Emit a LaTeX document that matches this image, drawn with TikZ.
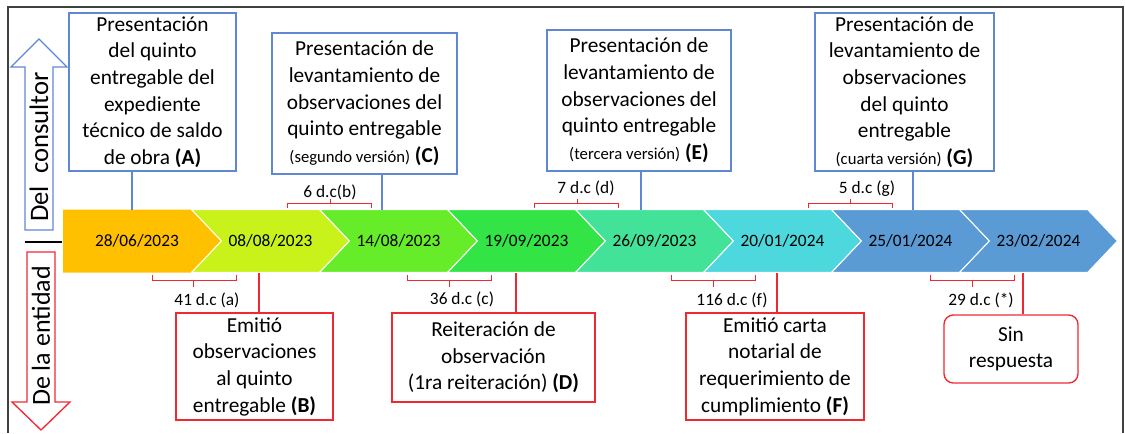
\documentclass[tikz,border=0pt]{standalone}
\usepackage{fontspec}
\setmainfont{Carlito}
\usetikzlibrary{shapes.symbols}

\definecolor{azulc}{RGB}{95,135,212}
\definecolor{rojoe}{RGB}{240,40,50}
\definecolor{naranja}{RGB}{255,192,0}
\definecolor{lima}{RGB}{200,242,25}
\definecolor{verdeuno}{RGB}{102,236,40}
\definecolor{verdedos}{RGB}{50,228,70}
\definecolor{menta}{RGB}{66,226,152}
\definecolor{cian}{RGB}{76,216,220}
\definecolor{azulh}{RGB}{91,155,213}

\begin{document}
\begin{tikzpicture}[
    x=0.75pt, y=-0.75pt,
    hito/.style={signal, signal to=east, signal from=west, signal pointer angle=93, draw=white, line width=0.8pt,
        minimum width=118.5pt, minimum height=47.25pt, inner sep=0pt, font=\fontsize{13}{15}\selectfont},
    fecha/.style={inner sep=0pt, font=\fontsize{13}{15}\selectfont},
    consultor/.style={draw=azulc, line width=1pt, align=center, inner sep=0pt, font=\fontsize{16}{20}\selectfont},
    entidad/.style={draw=rojoe, line width=1pt, align=center, inner sep=0pt, font=\fontsize{16}{20}\selectfont},
    plazo/.style={anchor=base, inner sep=0pt, font=\fontsize{13}{15}\selectfont},
    llave/.style={draw=rojoe, line width=0.6pt},
    lineaazul/.style={draw=azulc, line width=1pt},
    linearoja/.style={draw=rojoe, line width=1pt}
]
\useasboundingbox (0,0) rectangle (1125,433);

% Frame
\draw[black!75, line width=1pt] (8,433) -- (8,7) -- (1123,7) -- (1123,433);

% Side arrows
\draw[azulc, line width=1pt] (25,230) -- (25,67) -- (11,67) -- (39,39) -- (67,67) -- (53,67) -- (53,230) -- cycle;
\draw[rojoe, line width=1pt] (27,252) -- (55,252) -- (55,402) -- (70,402) -- (41,430) -- (12,402) -- (27,402) -- cycle;
\node[rotate=90, font=\fontsize{20}{24}\selectfont] (consul) at (39,147) {Del\ \ consultor};
\node[rotate=90, font=\fontsize{19.5}{24}\selectfont] (entid) at (41,336) {De la entidad};
\draw[line width=1.5pt] (25,242) -- (62,242);

% Timeline
\fill[naranja] (63,209.5) -- (192,209.5) -- (222,241) -- (192,272.5) -- (63,272.5) -- cycle;
\node[fecha] (h1) at (137,241) {28/06/2023};
\node[hito, fill=lima] (h2) at (270.5,241) {08/08/2023};
\node[hito, fill=verdeuno] (h3) at (398.5,241) {14/08/2023};
\node[hito, fill=verdedos] (h4) at (526.5,241) {19/09/2023};
\node[hito, fill=menta] (h5) at (654.5,241) {26/09/2023};
\node[hito, fill=cian] (h6) at (782.5,241) {20/01/2024};
\node[hito, fill=azulh] (h7) at (910.5,241) {25/01/2024};
\node[hito, fill=azulh] (h8) at (1038.5,241) {23/02/2024};

% Consultant boxes
\node[consultor, minimum width=125.25pt, minimum height=118.5pt] (A) at (152.5,92)
    {Presentación\\ del quinto\\ entregable del\\ expediente\\ técnico de saldo\\ de obra \textbf{(A)}};
\node[consultor, minimum width=138.75pt, minimum height=105.75pt] (C) at (364.5,103.5)
    {Presentación de\\ levantamiento de\\ observaciones del\\ quinto entregable\\ {\fontsize{12.5}{20}\selectfont (segundo versión)} \textbf{(C)}};
\node[consultor, minimum width=138pt, minimum height=105.75pt] (E) at (639,100.5)
    {Presentación de\\ levantamiento de\\ observaciones del\\ quinto entregable\\ {\fontsize{12.5}{20}\selectfont (tercera versión)} \textbf{(E)}};
\node[consultor, minimum width=134.25pt, minimum height=118.5pt] (G) at (904.5,92)
    {Presentación de\\ levantamiento de\\ observaciones\\ del quinto\\ entregable\\ {\fontsize{12.5}{20}\selectfont (cuarta versión)} \textbf{(G)}};

% Entity boxes
\node[entidad, minimum width=117.75pt, minimum height=80.25pt] (B) at (254.5,366.5)
    {Emitió\\ observaciones\\ al quinto\\ entregable \textbf{(B)}};
\node[entidad, minimum width=152.25pt, minimum height=66.75pt] (D) at (493.5,357.5)
    {Reiteración de\\ observación\\ (1ra reiteración) \textbf{(D)}};
\node[entidad, minimum width=133.5pt, minimum height=80.25pt] (F) at (775,366.5)
    {Emitió carta\\ notarial de\\ requerimiento de\\ cumplimiento \textbf{(F)}};
\node[entidad, rounded corners=7pt, minimum width=100.5pt, minimum height=51pt] (S) at (1011,349)
    {Sin\\ respuesta};

% Connectors
\coordinate (tA) at (132,210);
\coordinate (tC) at (382,210);
\coordinate (tE) at (641,210);
\coordinate (tG) at (913,210);
\coordinate (bB) at (259,273);
\coordinate (bD) at (516,273);
\coordinate (bF) at (777,273);
\coordinate (bS) at (1023,273);
\draw[lineaazul] (A.south -| tA) -- (tA);
\draw[lineaazul] (C.south -| tC) -- (tC);
\draw[lineaazul] (E.south -| tE) -- (tE);
\draw[lineaazul] (G.south -| tG) -- (tG);
\draw[linearoja] (bB) -- (B.north -| bB);
\draw[linearoja] (bD) -- (D.north -| bD);
\draw[linearoja] (bF) -- (F.north -| bF);
\draw[linearoja] (bS) -- (S.north -| bS);

% Day counts above
\draw[llave] (287,208) -- (287,203) -- (371,203) -- (371,208) (330,203) -- (330,199);
\node[plazo] (pb) at (330,197) {6 d.c(b)};
\draw[llave] (534,208) -- (534,203) -- (618,203) -- (618,208) (577,203) -- (577,199);
\node[plazo] (pd) at (586,193) {7 d.c (d)};
\draw[llave] (808,208) -- (808,203) -- (892,203) -- (892,208) (850,203) -- (850,199);
\node[plazo] (pg) at (867,193) {5 d.c (g)};

% Day counts below
\draw[llave] (152,275) -- (152,280) -- (236,280) -- (236,275) (193,280) -- (193,287);
\node[plazo] (pa) at (207,305) {41 d.c (a)};
\draw[llave] (407,275) -- (407,280) -- (491,280) -- (491,275) (449,280) -- (449,287);
\node[plazo] (pc) at (462,304) {36 d.c (c)};
\draw[llave] (671,275) -- (671,280) -- (755,280) -- (755,275) (713,280) -- (713,287);
\node[plazo] (pf) at (732,305) {116 d.c (f)};
\draw[llave] (930,275) -- (930,280) -- (1014,280) -- (1014,275) (972,280) -- (972,287);
\node[plazo] (pz) at (981,305) {29 d.c (*)};

\end{tikzpicture}
\end{document}
